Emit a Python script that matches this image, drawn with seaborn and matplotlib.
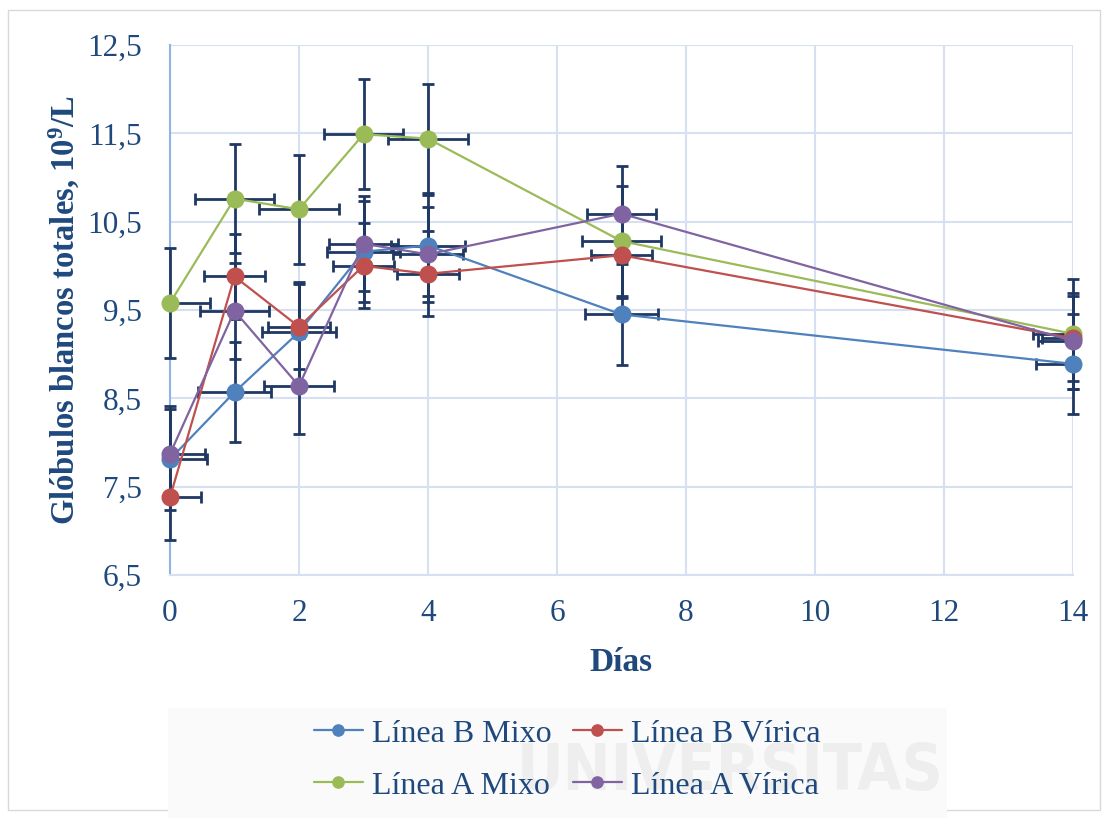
import pandas as pd
import seaborn as sns
import matplotlib.pyplot as plt
from matplotlib.patches import Rectangle

dias = [0, 1, 2, 3, 4, 7, 14]
b_mixo = [7.81, 8.57, 9.25, 10.16, 10.23, 9.45, 8.89]
b_virica = [7.38, 9.88, 9.31, 10.00, 9.91, 10.12, 9.18]
a_mixo = [9.58, 10.76, 10.64, 11.49, 11.44, 10.28, 9.23]
a_virica = [7.87, 9.49, 8.64, 10.25, 10.13, 10.59, 9.15]

# error fijo por serie (mismo valor en x y en y)
err_b_mixo = [0.57] * 7
err_b_virica = [0.48] * 7
err_a_mixo = [0.62] * 7
err_a_virica = [0.54] * 7

series = ['Línea B Mixo', 'Línea A Mixo', 'Línea B Vírica', 'Línea A Vírica']
valores = [b_mixo, a_mixo, b_virica, a_virica]
errores = [err_b_mixo, err_a_mixo, err_b_virica, err_a_virica]
colores = ['#4F81BD', '#9BBB59', '#C0504D', '#8064A2']

y_ticks = [6.5, 7.5, 8.5, 9.5, 10.5, 11.5, 12.5]
y_labels = ['6,5', '7,5', '8,5', '9,5', '10,5', '11,5', '12,5']
x_ticks = [0, 2, 4, 6, 8, 10, 12, 14]

dados = pd.DataFrame({
    'Días': dias * 4,
    'valor': sum(valores, []),
    'serie': sum([[s] * len(dias) for s in series], []),
})

sns.set_theme(style='white')
plt.rcParams['font.family'] = ['Liberation Serif', 'DejaVu Serif']
plt.rcParams['mathtext.fontset'] = 'custom'
plt.rcParams['mathtext.rm'] = 'Liberation Serif'
plt.rcParams['mathtext.bf'] = 'Liberation Serif:bold'
plt.rcParams['mathtext.default'] = 'bf'

azul_txt = '#1F497D'
navy = '#1F3864'
grid_c = '#D6E0F0'

fig = plt.figure(figsize=(11.08, 8.18), dpi=100)

# marca de agua al fondo
fig.patches.append(Rectangle((168 / 1108, 0), 779 / 1108, 110 / 818,
                             transform=fig.transFigure, facecolor='#FAFAFA',
                             edgecolor='none', zorder=-8))
fig.text(0.659, 0.056, 'UNIVERSITAS', fontsize=46, fontweight='bold',
         family='DejaVu Sans', fontstretch='condensed', color='#EEEEEE',
         ha='center', va='center', zorder=-5)

ax = fig.add_axes([170 / 1108, 1 - 575 / 818, 903 / 1108, 530 / 818])
ax.patch.set_alpha(0)

sns.lineplot(data=dados, x='Días', y='valor', hue='serie', palette=colores,
             hue_order=series, marker='o', markersize=13, markeredgewidth=0,
             linewidth=1.6, sort=False, estimator=None, ax=ax, zorder=4)
for ln in ax.lines:
    ln.set_clip_on(False)

for vals, err, col in zip(valores, errores, colores):
    # barras verticales (sin recortar)
    eb = ax.errorbar(dias, vals, yerr=err, fmt='none', ecolor=navy,
                     elinewidth=2, capsize=4, capthick=2, zorder=3)
    for c in eb.lines[1]:
        c.set_clip_on(False)
    for c in eb.lines[2]:
        c.set_clip_on(False)
    # barras horizontales
    ax.errorbar(dias, vals, xerr=err, fmt='none', ecolor=navy,
                elinewidth=2, capsize=4, capthick=2, zorder=3)

ax.set_xlim(0, 14)
ax.set_ylim(6.5, 12.5)
ax.set_xticks(x_ticks)
ax.set_yticks(y_ticks)
ax.set_yticklabels(y_labels)
ax.tick_params(axis='both', length=0, labelsize=22.5, labelcolor=azul_txt)
ax.tick_params(axis='y', pad=20)
ax.tick_params(axis='x', pad=17)
ax.set_axisbelow(True)
ax.grid(True, color=grid_c, linewidth=1.5)
for s in ['top', 'right']:
    ax.spines[s].set_visible(False)
ax.spines['left'].set_color('#8EB4E3')
ax.spines['left'].set_linewidth(1.5)
ax.spines['bottom'].set_color(grid_c)
ax.spines['bottom'].set_linewidth(1.5)

ax.set_xlabel('Días', fontsize=24, fontweight='bold', color=azul_txt)
ax.set_ylabel('Glóbulos blancos totales, 10$^{9}$/L', fontsize=23.5,
              fontweight='bold', color=azul_txt)
ax.xaxis.set_label_coords(0.5, -0.135)
ax.yaxis.set_label_coords(-0.098, 0.5)

handles, labels = ax.get_legend_handles_labels()
leg = ax.legend(handles, labels, ncol=2, loc='center',
                bbox_to_anchor=(0.512, 0.071), bbox_transform=fig.transFigure,
                frameon=False, fontsize=23, handlelength=1.53,
                handletextpad=0.3, columnspacing=0.66, labelspacing=0.71,
                markerscale=0.7)
for t in leg.get_texts():
    t.set_color(azul_txt)

fig.patches.append(Rectangle((8 / 1108, 8 / 818), 1092 / 1108, 800 / 818,
                             transform=fig.transFigure, fill=False,
                             edgecolor='#D9D9D9', linewidth=1, zorder=-10))

fig.savefig('out.png', dpi=100)
